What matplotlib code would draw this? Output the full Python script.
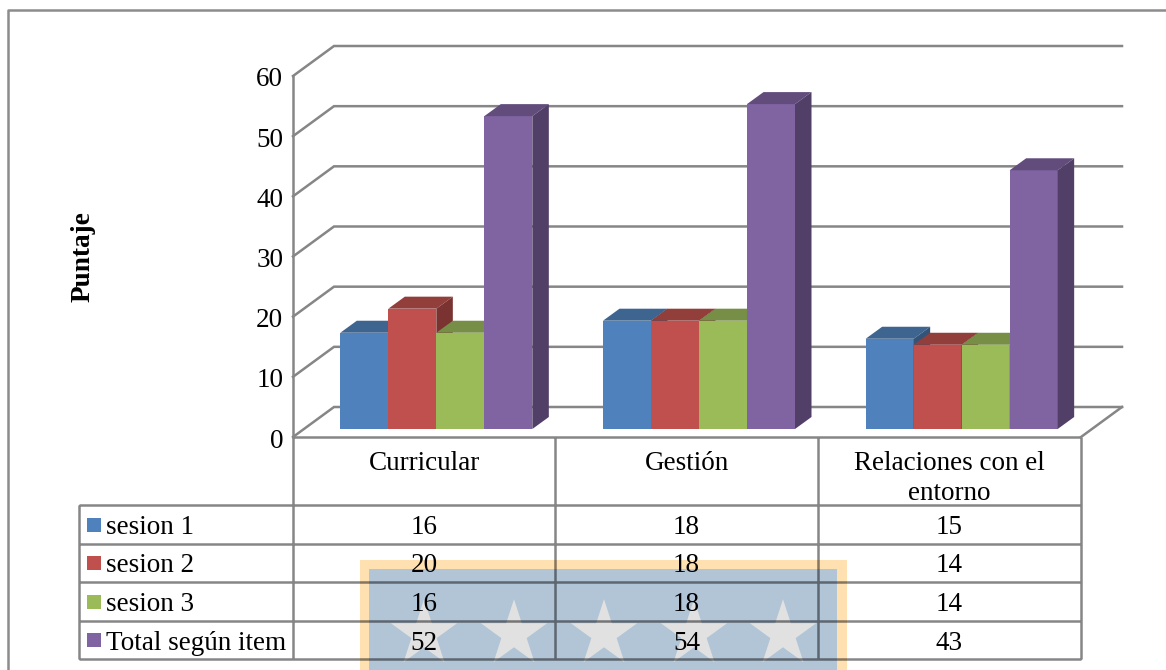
import matplotlib
matplotlib.use("Agg")
import matplotlib.pyplot as plt
from matplotlib.patches import Polygon, Rectangle, PathPatch
from matplotlib.path import Path
from matplotlib.transforms import ScaledTranslation
import numpy as np

categories = ["Curricular", "Gestión", "Relaciones con el\nentorno"]
series_names = ["sesion 1", "sesion 2", "sesion 3", "Total según item"]
sesion_1 = [16, 18, 15]
sesion_2 = [20, 18, 14]
sesion_3 = [16, 18, 14]
total_item = [52, 54, 43]
series_values = [sesion_1, sesion_2, sesion_3, total_item]
front_colors = ["#4F81BD", "#C0504D", "#9BBB59", "#8064A2"]
top_colors = ["#3E6590", "#923E3B", "#768E45", "#614C7C"]
side_colors = ["#335478", "#7A3331", "#637839", "#523F68"]
y_ticks = [0, 10, 20, 30, 40, 50, 60]

W, H = 1166, 670
plt.rcParams["font.family"] = ["Liberation Serif", "DejaVu Serif"]
FS = 19.5
GRAY = "#868686"
LW = 1.8
fig = plt.figure(figsize=(W / 100, H / 100), dpi=100, facecolor="white")

# Pixel overlay for frame, table, watermark
px = fig.add_axes([0, 0, 1, 1], zorder=1)
px.set_xlim(0, W); px.set_ylim(H, 0); px.axis("off")

# Plot axes: front plane of the 3D box
X0, X1, Y60, Y0 = 293, 1081, 76, 437
ax = fig.add_axes([X0 / W, 1 - Y0 / H, (X1 - X0) / W, (Y0 - Y60) / H], zorder=2)
ax.patch.set_alpha(0)
ax.set_xlim(-0.5, 2.5); ax.set_ylim(0, 60)
ax.set_yticks(y_ticks)
ax.tick_params(axis="y", length=0, labelsize=FS, pad=7, labelcolor="black")
ax.set_xticks([])
nudge = ScaledTranslation(0, -1 / 100, fig.dpi_scale_trans)
for lab in ax.get_yticklabels():
    lab.set_transform(lab.get_transform() + nudge)
for s in ["top", "right", "bottom"]:
    ax.spines[s].set_visible(False)
ax.spines["left"].set_color(GRAY); ax.spines["left"].set_linewidth(LW)

ux = (X1 - X0) / 3            # px per category
uy = (Y0 - Y60) / 60          # px per value
wall_dx, wall_dy = 41 / ux, 30 / uy
off_dx, off_dy = 12 / ux, 8 / uy
bar_w = 48 / ux
bar_dx, bar_dy = 16.5 / ux, 12 / uy

# back wall and side wall gridlines, floor
for t in y_ticks:
    ax.plot([-0.5, -0.5 + wall_dx, 2.5 + wall_dx], [t, t + wall_dy, t + wall_dy],
            color=GRAY, lw=LW, clip_on=False, zorder=1, solid_joinstyle="miter")
ax.plot([2.5, 2.5 + wall_dx], [0, wall_dy], color=GRAY, lw=LW, clip_on=False, zorder=1)

# bars
for i, cat_x in enumerate(range(len(categories))):
    for j, vals in enumerate(series_values):
        v = vals[i]
        left = cat_x + off_dx + (j - 2) * bar_w
        b = off_dy
        ax.bar(left, v, width=bar_w, bottom=b, align="edge", color=front_colors[j],
               clip_on=False, zorder=3 + j)
        r = left + bar_w
        t = b + v
        ax.add_patch(Polygon([(left, t), (left + bar_dx, t + bar_dy), (r + bar_dx, t + bar_dy), (r, t)],
                             closed=True, fc=top_colors[j], ec="none", clip_on=False, zorder=3 + j))
        ax.add_patch(Polygon([(r, b), (r + bar_dx, b + bar_dy), (r + bar_dx, t + bar_dy), (r, t)],
                             closed=True, fc=side_colors[j], ec="none", clip_on=False, zorder=3 + j))

# y axis title
px.text(83, 257, "Puntaje", rotation=90, ha="center", va="center",
        fontsize=19.6, fontweight="bold", color="black")

# outer frame: left and top edges only
FL, FT = 7.5, 9.5
px.plot([FL, FL, W], [H, FT, FT], color="#8C8C8C", lw=LW, zorder=1)

# watermark
px.add_patch(Rectangle((360, 560), 487, 120, fc="#FFE1B1", ec="none", zorder=2))
px.add_patch(Rectangle((369, 569), 468, 120, fc="#B1C5D7", ec="none", zorder=3))
for cx in [424, 514, 604, 694, 783]:
    ang = np.deg2rad(np.arange(10) * 36 - 90)
    rad = np.where(np.arange(10) % 2 == 0, 34.8, 13.3)
    px.add_patch(Polygon(np.c_[cx + rad * np.cos(ang), 634 + rad * np.sin(ang)],
                         closed=True, fc="#E1E1E1", ec="none", zorder=4))

# data table lines as one path so crossings do not darken
col_x = [293, 555, 818, 1081]
row_y = [437, 505, 544, 582, 621, 659]
verts, codes = [], []
def seg(a, b):
    verts.extend([a, b]); codes.extend([Path.MOVETO, Path.LINETO])
seg((col_x[0], row_y[0]), (col_x[-1], row_y[0]))
for y in row_y[1:]:
    seg((79, y), (col_x[-1], y))
for x in col_x:
    seg((x, row_y[0]), (x, row_y[-1]))
seg((79, row_y[1]), (79, row_y[-1]))
px.add_patch(PathPatch(Path(verts, codes), fc="none", ec="black", alpha=0.475, lw=LW, zorder=5))

# category headers
centers = [(col_x[k] + col_x[k + 1]) / 2 for k in range(3)]
for c, name in zip(centers, categories):
    px.text(c, 451, name, ha="center", va="top", fontsize=FS, linespacing=1.27, zorder=6)

# legend keys + values
for r, (name, vals) in enumerate(zip(series_names, series_values)):
    yc = (row_y[r + 1] + row_y[r + 2]) / 2
    px.add_patch(Rectangle((87, yc - 7), 14, 14, fc=front_colors[r], ec="none", zorder=6))
    px.text(106.5, yc, name, ha="left", va="center_baseline", fontsize=FS, zorder=6)
    for c, v in zip(centers, vals):
        px.text(c, yc, str(v), ha="center", va="center_baseline", fontsize=FS, zorder=6)

fig.savefig("out.png", dpi=100)
